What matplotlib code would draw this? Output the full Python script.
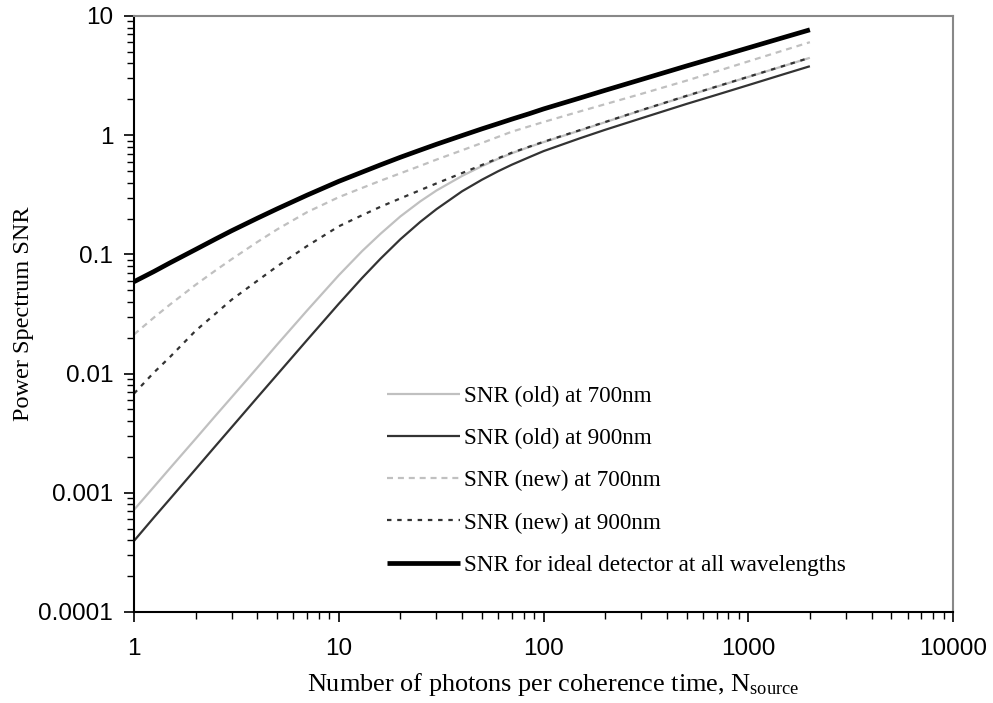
import matplotlib
matplotlib.use("Agg")
import matplotlib.pyplot as plt
from matplotlib.ticker import FixedLocator, FixedFormatter, LogLocator, NullFormatter

plt.rcParams['mathtext.fontset'] = 'custom'
plt.rcParams['mathtext.rm'] = 'Liberation Serif'
plt.rcParams['mathtext.it'] = 'Liberation Serif:italic'

# ---- data ----
n_photons = [1, 1.25, 1.5, 2, 2.5, 3, 4, 5, 7, 10, 13, 16, 20, 25, 30, 40, 50, 60, 70, 85,
             100, 150, 200, 300, 500, 700, 1000, 1500, 2000]

snr_old_700 = [0.00072, 0.00112, 0.00161, 0.00284, 0.00443, 0.00634, 0.0112, 0.0175, 0.0338, 0.0668,
               0.1065, 0.149, 0.2083, 0.2784, 0.3434, 0.455, 0.55, 0.633, 0.705, 0.796,
               0.874, 1.093, 1.285, 1.615, 2.13, 2.55, 3.08, 3.82, 4.46]
snr_old_900 = [0.000395, 0.00062, 0.00089, 0.00158, 0.00247, 0.00355, 0.0063, 0.0098, 0.0191, 0.0385,
               0.0634, 0.0921, 0.134, 0.1873, 0.2395, 0.3383, 0.4228, 0.4982, 0.5654, 0.653,
               0.735, 0.94, 1.11, 1.386, 1.83, 2.18, 2.63, 3.26, 3.79]
snr_new_700 = [0.0213, 0.0295, 0.038, 0.0556, 0.0733, 0.0912, 0.127, 0.162, 0.226, 0.302,
               0.361, 0.415, 0.479, 0.553, 0.624, 0.747, 0.86, 0.968, 1.07, 1.185,
               1.29, 1.58, 1.82, 2.22, 2.87, 3.43, 4.16, 5.17, 6.03]
snr_new_900 = [0.0068, 0.0102, 0.0138, 0.0229, 0.0318, 0.0417, 0.060, 0.0794, 0.1175, 0.172,
               0.213, 0.251, 0.295, 0.346, 0.394, 0.481, 0.562, 0.64, 0.713, 0.80,
               0.88, 1.10, 1.29, 1.62, 2.14, 2.56, 3.09, 3.83, 4.47]
snr_ideal = [0.059, 0.0718, 0.085, 0.110, 0.1345, 0.158, 0.201, 0.241, 0.314, 0.41,
             0.490, 0.564, 0.653, 0.75, 0.839, 0.993, 1.13, 1.25, 1.363, 1.513,
             1.66, 2.047, 2.38, 2.93, 3.81, 4.51, 5.40, 6.63, 7.66]

series_labels = ["SNR (old) at 700nm", "SNR (old) at 900nm", "SNR (new) at 700nm",
                 "SNR (new) at 900nm", "SNR for ideal detector at all wavelengths"]

x_ticks = [1, 10, 100, 1000, 10000]
x_tick_labels = ["1", "10", "100", "1000", "10000"]
y_ticks = [0.0001, 0.001, 0.01, 0.1, 1, 10]
y_tick_labels = ["0.0001", "0.001", "0.01", "0.1", "1", "10"]

# ---- figure ----
fig = plt.figure(figsize=(9.93, 7.03), dpi=100)
ax = fig.add_axes([134/993, 1-612/703, (953-134)/993, (612-16)/703])

light = '#c0c0c0'
dark = '#333333'
ax.plot(n_photons, snr_old_700, color=light, lw=1.6, solid_capstyle='butt', label=series_labels[0])
ax.plot(n_photons, snr_old_900, color=dark, lw=1.6, solid_capstyle='butt', label=series_labels[1])
ax.plot(n_photons, snr_new_700, color=light, lw=1.6, linestyle=(0, (2.7, 2.2)), label=series_labels[2])
ax.plot(n_photons, snr_new_900, color=dark, lw=1.6, linestyle=(0, (2.0, 2.6)), label=series_labels[3])
ax.plot(n_photons, snr_ideal, color='black', lw=3.4, solid_capstyle='butt', label=series_labels[4])

ax.set_xscale('log')
ax.set_yscale('log')
ax.set_xlim(1, 10000)
ax.set_ylim(0.0001, 10)

ax.xaxis.set_major_locator(FixedLocator(x_ticks))
ax.xaxis.set_major_formatter(FixedFormatter(x_tick_labels))
ax.yaxis.set_major_locator(FixedLocator(y_ticks))
ax.yaxis.set_major_formatter(FixedFormatter(y_tick_labels))
ax.xaxis.set_minor_locator(LogLocator(base=10, subs=range(2, 10), numticks=20))
ax.yaxis.set_minor_locator(LogLocator(base=10, subs=range(2, 10), numticks=20))
ax.xaxis.set_minor_formatter(NullFormatter())
ax.yaxis.set_minor_formatter(NullFormatter())

ax.tick_params(axis='both', which='major', direction='out', length=7, width=1.2, color='black')
ax.tick_params(axis='both', which='minor', direction='out', length=5, width=1.0, color='black')
ax.tick_params(axis='x', which='major', pad=12)
ax.tick_params(axis='y', which='major', pad=8)
for lab in ax.get_xticklabels() + ax.get_yticklabels():
    lab.set_fontfamily('Liberation Sans')
    lab.set_fontsize(17.5)

for side in ['top', 'right']:
    ax.spines[side].set_color('#888888')
    ax.spines[side].set_linewidth(1.5)
for side in ['left', 'bottom']:
    ax.spines[side].set_color('black')
    ax.spines[side].set_linewidth(1.5)

ax.set_xlabel("Number of photons per coherence time, N$_{\\mathrm{source}}$",
              fontfamily='Liberation Serif', fontsize=18.9, labelpad=8, x=(553-134)/819)
ax.set_ylabel("Power Spectrum SNR", fontfamily='Liberation Serif', fontsize=17.5, labelpad=3)

leg = ax.legend(loc='upper left', bbox_to_anchor=(387/993, 1-386/703), bbox_transform=fig.transFigure,
                frameon=False, prop={'family': 'Liberation Serif', 'size': 16.7},
                handlelength=3.15, handletextpad=0.17, labelspacing=0.90, borderpad=0, borderaxespad=0)

fig.savefig('out.png', dpi=100)
